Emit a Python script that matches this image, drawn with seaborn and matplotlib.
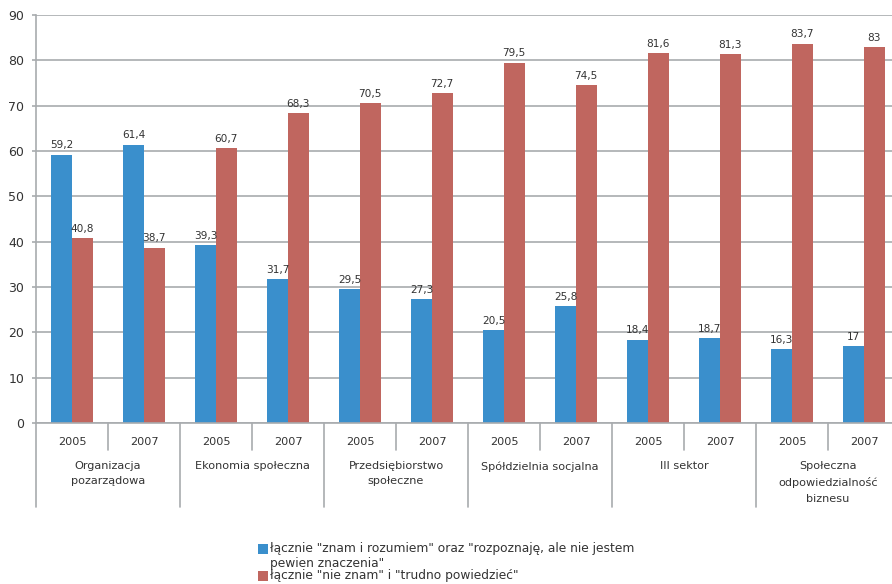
import matplotlib
matplotlib.use("Agg")
import matplotlib.pyplot as plt
from matplotlib.patches import Rectangle
import seaborn as sns
import pandas as pd

# Categories and survey years
categories = [
    "Organizacja\npozarządowa",
    "Ekonomia społeczna",
    "Przedsiębiorstwo\nspołeczne",
    "Spółdzielnia socjalna",
    "III sektor",
    "Społeczna\nodpowiedzialność\nbiznesu",
]
years = ["2005", "2007"]

series_names = [
    'łącznie "znam i rozumiem" oraz "rozpoznaję, ale nie jestem\npewien znaczenia"',
    'łącznie "nie znam" i "trudno powiedzieć"',
]
known = [59.2, 61.4, 39.3, 31.7, 29.5, 27.3, 20.5, 25.8, 18.4, 18.7, 16.3, 17]
unknown = [40.8, 38.7, 60.7, 68.3, 70.5, 72.7, 79.5, 74.5, 81.6, 81.3, 83.7, 83]
y_ticks = [0, 10, 20, 30, 40, 50, 60, 70, 80, 90]

colors = ["#3A8FCC", "#C0665F"]
text_color = "#333333"
grid_color = "#A8ABAE"

slots = [f"{c}|{y}" for c in categories for y in years]
rows = []
for i, s in enumerate(slots):
    rows.append({"slot": s, "series": series_names[0], "value": known[i]})
    rows.append({"slot": s, "series": series_names[1], "value": unknown[i]})
df = pd.DataFrame(rows)

sns.set_theme(style="white")
plt.rcParams["font.family"] = ["DejaVu Sans"]

fig = plt.figure(figsize=(8.92, 5.84), dpi=100)
ax = fig.add_axes([36 / 892, 161 / 584, 864 / 892, 408 / 584])

sns.barplot(
    data=df, x="slot", y="value", hue="series",
    order=slots, hue_order=series_names, palette=colors,
    width=0.57, saturation=1, linewidth=0, legend=False, ax=ax,
)

ax.set_xlim(-0.5, len(slots) - 0.5)
ax.set_ylim(0, 90)
ax.set_yticks(y_ticks)
ax.set_yticklabels([str(t) for t in y_ticks], fontsize=9, color=text_color)
ax.set_xticks([])
ax.set_xlabel("")
ax.set_ylabel("")
ax.yaxis.grid(True, color=grid_color, linewidth=1.2)
ax.set_axisbelow(True)
for side in ["top", "right"]:
    ax.spines[side].set_visible(False)
for side in ["left", "bottom"]:
    ax.spines[side].set_color(grid_color)
    ax.spines[side].set_linewidth(1.2)
ax.tick_params(axis="y", length=3, color=grid_color, width=1.2, pad=5.5, left=True)

# Value labels above each bar
for container, vals in zip(ax.containers, [known, unknown]):
    labels = [f"{v:g}".replace(".", ",") for v in vals]
    ax.bar_label(container, labels=labels, padding=3, fontsize=7.6, color=text_color)

# Two-level category axis
trans = ax.get_xaxis_transform()
ax_h = 408.0
for i, s in enumerate(slots):
    cat, yr = s.split("|")
    ax.text(i, -19 / ax_h, yr, transform=trans, ha="center", va="center",
            fontsize=8.1, color=text_color)
for k, cat in enumerate(categories):
    ax.text(2 * k + 0.5, -38 / ax_h, cat, transform=trans, ha="center", va="top",
            fontsize=8.1, color=text_color, linespacing=1.68)
    # short divider between the two years
    ax.plot([2 * k + 0.5, 2 * k + 0.5], [0, -27 / ax_h], transform=trans,
            color=grid_color, linewidth=1.2, clip_on=False)
for k in range(len(categories) + 1):
    x = 2 * k - 0.5
    ax.plot([x, x], [0, -84 / ax_h], transform=trans,
            color=grid_color, linewidth=1.2, clip_on=False)

# Legend
leg_x = 258 / 892
for (yc, name, col) in [(549, series_names[0], colors[0]), (576, series_names[1], colors[1])]:
    fig.patches.append(Rectangle((leg_x, 1 - (yc + 5) / 584), 10 / 892, 10 / 584,
                                 transform=fig.transFigure, facecolor=col,
                                 edgecolor="none"))
    fig.text(270 / 892, 1 - (yc - 7) / 584, name, ha="left", va="top",
             fontsize=8.8, color=text_color, linespacing=1.25)

fig.savefig("out.png", dpi=100)
